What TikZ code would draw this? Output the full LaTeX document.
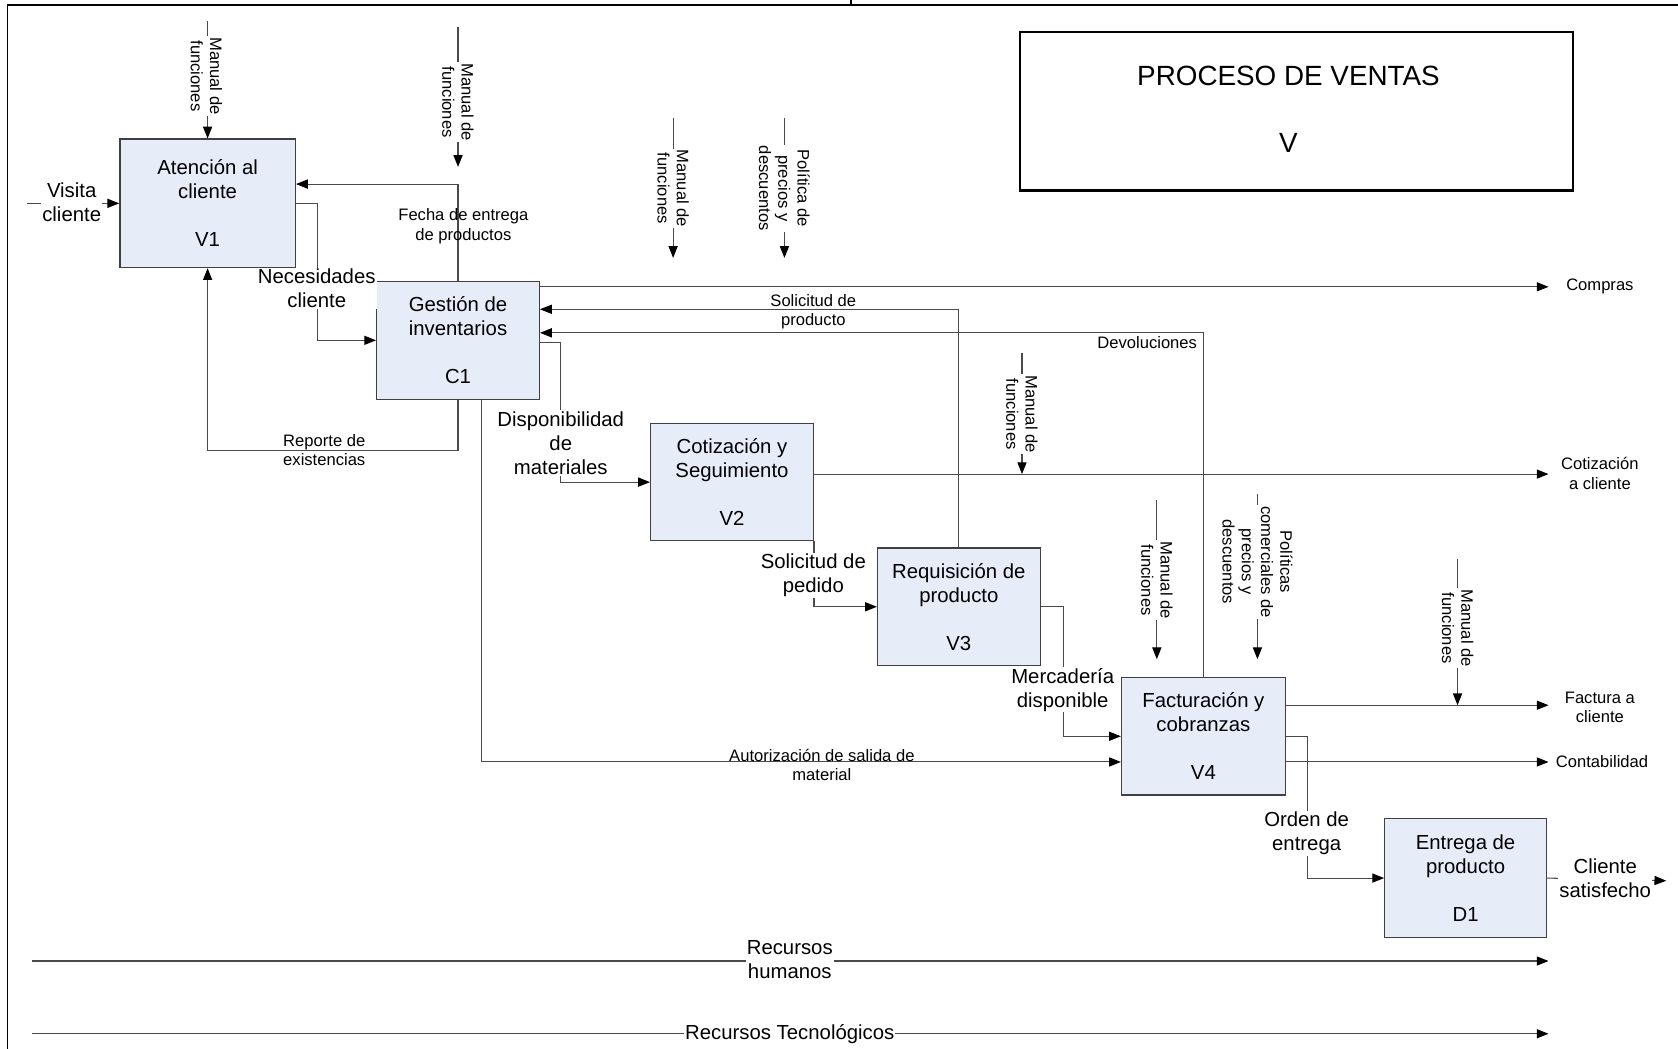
\documentclass[tikz,border=0pt]{standalone}
\usepackage{fontspec}
\setmainfont{Liberation Sans}
\usetikzlibrary{arrows.meta,calc}
\definecolor{boxfill}{HTML}{E7EDF8}
\definecolor{edge}{HTML}{404040}
\definecolor{wire}{HTML}{4A4A4A}
\newcommand\lblbig{\fontsize{19}{22.5}\selectfont}
\newcommand\lblsmall{\fontsize{15.5}{18}\selectfont}
\newcommand\lbltitle{\fontsize{26}{30}\selectfont}

\begin{document}
\begin{tikzpicture}[x=1pt,y=-1pt,
  actbox/.style={draw=edge, line width=1.2pt, fill=boxfill, align=center, font=\lblbig, inner sep=0pt},
  flow/.style={draw=wire, line width=1pt, -{Triangle[length=11pt,width=8.5pt,color=black]}},
  lbl/.style={fill=white, align=center, font=\lblbig, inner sep=1pt},
  slbl/.style={align=center, font=\lblsmall, inner sep=0.5pt},
  ctl/.style={fill=white, align=center, font=\lblsmall, rotate=-90, inner sep=1pt},
]
\useasboundingbox (0,0) rectangle (1568,980);

% outer frame
\draw[line width=1.8pt] (7,980) -- (7,5) -- (1568,5);
\draw[line width=2.2pt] (795,0) -- (795,5);

% title block
\node[draw=black, line width=2.4pt, minimum width=517pt, minimum height=148pt] (title) at (1211.5,104) {};
\node[font=\lbltitle, align=center] (titletext) at (1204,102) {PROCESO DE VENTAS\\[33pt]V};

% activities
\node[actbox, minimum width=164pt, minimum height=120pt] (v1) at (194,190) {Atención al\\cliente\\[22.5pt]V1};
\node[actbox, minimum width=152pt, minimum height=110pt] (c1) at (428,318) {Gestión de\\inventarios\\[22.5pt]C1};
\node[actbox, minimum width=152pt, minimum height=109pt] (v2) at (684,450.5) {Cotización y\\Seguimiento\\[22.5pt]V2};
\node[actbox, minimum width=152pt, minimum height=110pt] (v3) at (896,567) {Requisición de\\producto\\[22.5pt]V3};
\node[actbox, minimum width=153pt, minimum height=110pt] (v4) at (1124.5,688) {Facturación y\\cobranzas\\[22.5pt]V4};
\node[actbox, minimum width=151pt, minimum height=111pt] (d1) at (1369.5,820.5) {Entrega de\\producto\\[22.5pt]D1};

% free ends
\coordinate (visin) at (25,190);
\coordinate (compras) at (1447,268);
\coordinate (cotiz) at (1447,443);
\coordinate (factura) at (1447,659);
\coordinate (conta) at (1447,712);
\coordinate (csat) at (1557,823);
\coordinate (rhA) at (30,898);  \coordinate (rhB) at (1447,898);
\coordinate (rtA) at (30,966);  \coordinate (rtB) at (1447,966);

% inputs, outputs and feedback
\draw[flow] (visin) -- (v1.west);
\draw[flow] (v1.east) -- ++(20,0) |- (c1.west);
\draw[flow] (c1.north) |- ([yshift=18pt]v1.east);
\draw[flow] (c1.south) -- ++(0,47) -| (v1.south);
\draw[flow] (c1.east |- compras) -- (compras);
\draw[flow] (v3.north) |- ([yshift=29pt]c1.east);
\draw[flow] (v4.north) |- ([yshift=7pt]c1.east);
\draw[flow] ([yshift=-2pt]c1.east) -- ++(19,0) |- (v2.west);
\draw[flow] ([xshift=22pt]c1.south) |- ([yshift=-24pt]v4.west);
\draw[flow] (v2.east |- cotiz) -- (cotiz);
\draw[flow] (v2.south east) |- (v3.west);
\draw[flow] (v3.east) -- ++(21,0) |- (v4.west);
\draw[flow] (v4.east |- factura) -- (factura);
\draw[flow] (v4.east |- conta) -- (conta);
\draw[flow] (v4.east) -- ++(20,0) |- (d1.west);
\draw[flow] (d1.east) -- (csat);
\draw[flow] (rhA) -- (rhB);
\draw[flow] (rtA) -- (rtB);

% controls
\coordinate (m1s) at (194,20);
\coordinate (m2s) at (428,25);   \coordinate (m2e) at (428,156);
\coordinate (m3s) at (629,110);  \coordinate (m3e) at (629,241);
\coordinate (m4s) at (733,110);  \coordinate (m4e) at (733,241);
\coordinate (m5s) at (955,330);  \coordinate (m5e) at (955,443);
\coordinate (m6s) at (1081,467); \coordinate (m6e) at (1081,616);
\coordinate (m7s) at (1175,462); \coordinate (m7e) at (1175,616);
\coordinate (m8s) at (1362,522); \coordinate (m8e) at (1362,659);
\draw[flow] (m1s) -- (v1.north);
\draw[flow] (m2s) -- (m2e);
\draw[flow] (m3s) -- (m3e);
\draw[flow] (m4s) -- (m4e);
\draw[flow] (m5s) -- (m5e);
\draw[flow] (m6s) -- (m6e);
\draw[flow] (m7s) -- (m7e);
\draw[flow] (m8s) -- (m8e);

% control labels
\node[ctl] (lm1) at (193,71)   {Manual de\\funciones};
\node[ctl] (lm2) at (428,95.5) {Manual de\\funciones};
\node[ctl] (lm3) at (629,176)  {Manual de\\funciones};
\node[ctl] (lm4) at (733,176)  {Política de\\precios y\\descuentos};
\node[ctl] (lm5) at (955,387)  {Manual de\\funciones};
\node[ctl] (lm6) at (1081,542) {Manual de\\funciones};
\node[ctl] (lm7) at (1175,525) {Políticas\\comerciales de\\precios y\\descuentos};
\node[ctl] (lm8) at (1362,587) {Manual de\\funciones};

% arrow labels
\node[lbl]  (lvis) at (67,189)     {Visita\\cliente};
\node[lbl]  (lnec) at (296,269.5)  {Necesidades\\cliente};
\node[slbl] (lfec) at (433,211.5)  {Fecha de entrega\\de productos};
\node[slbl] (lrep) at (303,420.5)  {Reporte de\\existencias};
\node[slbl] (lcom) at (1495,268)   {Compras};
\node[slbl] (lsol) at (760,291)    {Solicitud de\\producto};
\node[slbl] (ldev) at (1072,320)   {Devoluciones};
\node[lbl]  (ldis) at (524,414)    {Disponibilidad\\de\\materiales};
\node[slbl] (laut) at (768,715)    {Autorización de salida de\\material};
\node[slbl] (lcot) at (1495,442.5) {Cotización\\a cliente};
\node[lbl]  (lped) at (760,537.5)  {Solicitud de\\pedido};
\node[lbl]  (lmer) at (993,644.5)  {Mercadería\\disponible};
\node[slbl] (lfac) at (1495,661)   {Factura a\\cliente};
\node[slbl] (lcon) at (1497,712)   {Contabilidad};
\node[lbl]  (lord) at (1221,779)   {Orden de\\entrega};
\node[lbl]  (lcli) at (1500,821)   {Cliente\\satisfecho};
\node[lbl]  (lrh)  at (738,897)    {Recursos\\humanos};
\node[lbl]  (lrt)  at (738,966)    {Recursos Tecnológicos};
\end{tikzpicture}
\end{document}
